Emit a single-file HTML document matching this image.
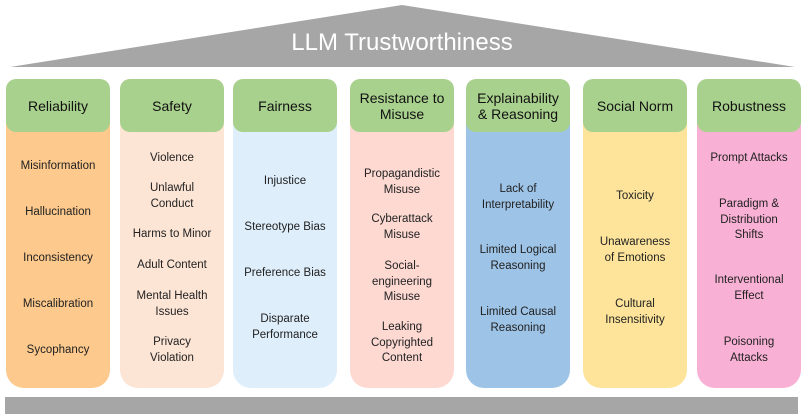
<!DOCTYPE html><html><head><style>
body{margin:0;width:805px;height:417px;background:#fff;position:relative;overflow:hidden;font-family:"Liberation Sans",sans-serif;}
.col{position:absolute;top:110px;height:278px;width:104px;border-radius:0 0 18px 18px;}
.hd{position:absolute;top:79px;height:53px;width:104px;background:#a9d18e;border-radius:10px;display:flex;align-items:center;justify-content:center;text-align:center;font-size:14px;line-height:16px;color:#111;}
.t{position:absolute;width:104px;text-align:center;font-size:11.5px;line-height:15.5px;color:#222;margin-top:2px;}
</style></head><body>
<svg width="805" height="417" style="position:absolute;left:0;top:0">
<polygon points="10,67 402,5 795,67" fill="#a6a6a6"/>
<rect x="5" y="397" width="793" height="17" fill="#a6a6a6"/>
<text x="402" y="50" text-anchor="middle" fill="#fff" font-size="24" font-family="Liberation Sans">LLM Trustworthiness</text>
</svg>
<div class="col" style="left:6px;background:#fdc98c"></div>
<div class="col" style="left:120px;background:#fde5d5"></div>
<div class="col" style="left:233px;background:#deeefb"></div>
<div class="col" style="left:350px;background:#fdd9d2"></div>
<div class="col" style="left:466px;background:#9dc3e6"></div>
<div class="col" style="left:583px;background:#fde49a"></div>
<div class="col" style="left:697px;background:#f8b0d4"></div>
<div class="hd" style="left:6px">Reliability</div>
<div class="hd" style="left:120px">Safety</div>
<div class="hd" style="left:233px">Fairness</div>
<div class="hd" style="left:350px">Resistance to<br>Misuse</div>
<div class="hd" style="left:466px">Explainability<br>&amp; Reasoning</div>
<div class="hd" style="left:583px">Social Norm</div>
<div class="hd" style="left:697px">Robustness</div>

<div class="t" style="left:6px;top:157px">Misinformation</div>
<div class="t" style="left:6px;top:203px">Hallucination</div>
<div class="t" style="left:6px;top:249px">Inconsistency</div>
<div class="t" style="left:6px;top:295px">Miscalibration</div>
<div class="t" style="left:6px;top:341px">Sycophancy</div>

<div class="t" style="left:120px;top:149px">Violence</div>
<div class="t" style="left:120px;top:179px">Unlawful<br>Conduct</div>
<div class="t" style="left:120px;top:225px">Harms to Minor</div>
<div class="t" style="left:120px;top:256px">Adult Content</div>
<div class="t" style="left:120px;top:287px">Mental Health<br>Issues</div>
<div class="t" style="left:120px;top:333px">Privacy<br>Violation</div>

<div class="t" style="left:233px;top:172px">Injustice</div>
<div class="t" style="left:233px;top:218px">Stereotype Bias</div>
<div class="t" style="left:233px;top:264px">Preference Bias</div>
<div class="t" style="left:233px;top:310px">Disparate<br>Performance</div>

<div class="t" style="left:350px;top:165px">Propagandistic<br>Misuse</div>
<div class="t" style="left:350px;top:210px">Cyberattack<br>Misuse</div>
<div class="t" style="left:350px;top:257px">Social-<br>engineering<br>Misuse</div>
<div class="t" style="left:350px;top:318px">Leaking<br>Copyrighted<br>Content</div>

<div class="t" style="left:466px;top:180px">Lack of<br>Interpretability</div>
<div class="t" style="left:466px;top:241px">Limited Logical<br>Reasoning</div>
<div class="t" style="left:466px;top:303px">Limited Causal<br>Reasoning</div>

<div class="t" style="left:583px;top:187px">Toxicity</div>
<div class="t" style="left:583px;top:233px">Unawareness<br>of Emotions</div>
<div class="t" style="left:583px;top:295px">Cultural<br>Insensitivity</div>

<div class="t" style="left:697px;top:149px">Prompt Attacks</div>
<div class="t" style="left:697px;top:195px">Paradigm &amp;<br>Distribution<br>Shifts</div>
<div class="t" style="left:697px;top:271px">Interventional<br>Effect</div>
<div class="t" style="left:697px;top:333px">Poisoning<br>Attacks</div>
</body></html>
